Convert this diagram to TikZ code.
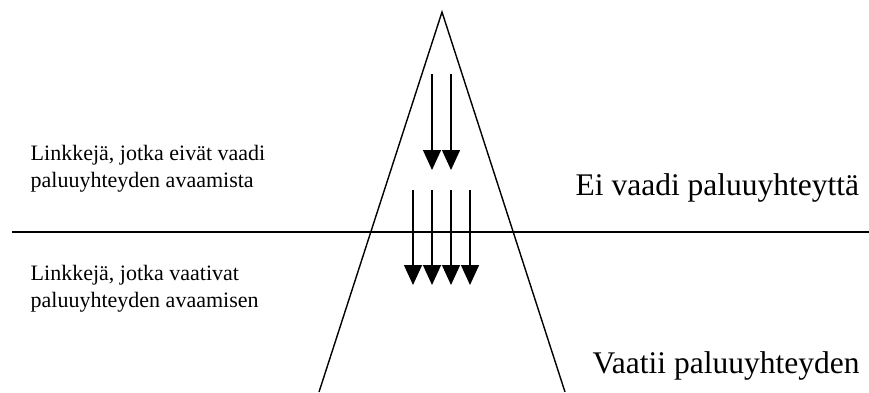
\documentclass[tikz,border=0pt]{standalone}
\usepackage{fontspec}
\setmainfont{Liberation Serif}
\usetikzlibrary{arrows.meta}

\begin{document}
\begin{tikzpicture}[x=1pt, y=-1pt, line width=1.4pt,
  lbl/.style={inner sep=0pt, anchor=base west, align=left, font=\fontsize{22}{26.5}\selectfont},
  zone/.style={inner sep=0pt, anchor=base west, font=\fontsize{31.5}{36}\selectfont},
  arr/.style={-{Triangle[width=18pt, length=20pt]}}]
  \useasboundingbox (0,0) rectangle (869,392);

  % kolmio ja raja
  \draw (319,392) -- (442,12) -- (565,392);
  \draw (12,232) -- (869,232);

  % nuolet
  \foreach \x [count=\i] in {432,451} {
    \coordinate (u\i) at (\x,74);
    \coordinate (ut\i) at (\x,170);
    \draw[arr] (u\i) -- (ut\i);
  }
  \foreach \x [count=\i] in {413,432,451,470} {
    \coordinate (d\i) at (\x,190);
    \coordinate (dt\i) at (\x,285);
    \draw[arr] (d\i) -- (dt\i);
  }

  \node[lbl] (L1) at (30,187) {Linkkejä, jotka eivät vaadi\\paluuyhteyden avaamista};
  \node[lbl] (L2) at (30,307) {Linkkejä, jotka vaativat\\paluuyhteyden avaamisen};
  \node[zone] (Z1) at (575,195) {Ei vaadi paluuyhteyttä};
  \node[zone] (Z2) at (592,373) {Vaatii paluuyhteyden};
\end{tikzpicture}
\end{document}
